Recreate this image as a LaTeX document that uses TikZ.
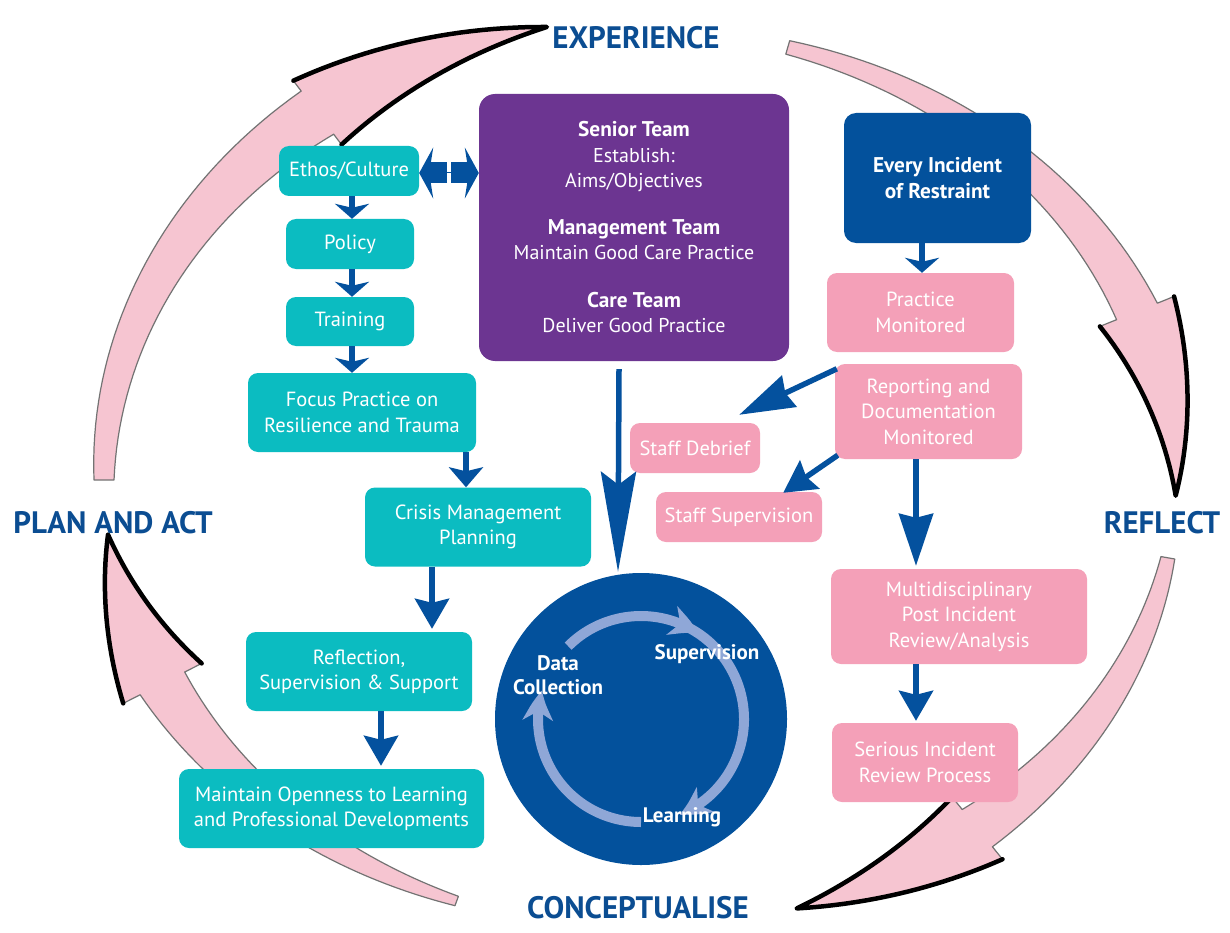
\documentclass[tikz,border=0pt]{standalone}
\usepackage{fontspec}
\setmainfont{PT Sans}
\usetikzlibrary{arrows.meta,bending}
\definecolor{cteal}{HTML}{0BBCC1}
\definecolor{cpurple}{HTML}{6C3591}
\definecolor{cdblue}{HTML}{03519C}
\definecolor{cpink}{HTML}{F4A0B8}
\definecolor{clabel}{HTML}{0B4D92}
\definecolor{carrow}{HTML}{04519E}
\definecolor{cpinkarrow}{HTML}{F6C5D1}
\definecolor{cring}{HTML}{8FA7D7}
\newcommand\boxfont{\fontsize{20.5}{25.5}\selectfont}
\newcommand\purfont{\fontsize{20}{25.5}\selectfont}
\newcommand\bfbig{\fontsize{21.3}{25.5}\selectfont\bfseries}
\newcommand\labfont{\fontsize{31}{32}\selectfont\bfseries}
\newcommand\circfont{\fontsize{21}{24.5}\selectfont\bfseries}
% #1=b, #2=t0, #3=t1, #4=t2, #5=w0, #6=w1, #7=wb
\newcommand\pinkarrow[7]{%
 \filldraw[fill=cpinkarrow,draw=black!55,line width=1.2pt,line join=round]
  plot[domain=#2:#3,samples=40,variable=\t] ({640+(536+(#5)+((#6)-(#5))*(\t-(#2))/((#3)-(#2)))*cos(\t)},{480-((#1)+(#5)+((#6)-(#5))*(\t-(#2))/((#3)-(#2)))*sin(\t)})
  -- plot[domain=#3:#4,samples=25,variable=\t] ({640+(536+(#7)*(\t-(#4))/((#3)-(#4)))*cos(\t)},{480-((#1)+(#7)*(\t-(#4))/((#3)-(#4)))*sin(\t)})
  -- plot[domain=#4:#3,samples=25,variable=\t] ({640+(536-(#7)*(\t-(#4))/((#3)-(#4)))*cos(\t)},{480-((#1)-(#7)*(\t-(#4))/((#3)-(#4)))*sin(\t)})
  -- plot[domain=#3:#2,samples=40,variable=\t] ({640+(536-(#5)-((#6)-(#5))*(\t-(#2))/((#3)-(#2)))*cos(\t)},{480-((#1)-(#5)-((#6)-(#5))*(\t-(#2))/((#3)-(#2)))*sin(\t)})
  -- cycle;
 \draw[black,line width=4.5pt,line cap=round,line join=round]
  plot[domain=#3:#4,samples=25,variable=\t] ({640+(536+(#7)*(\t-(#4))/((#3)-(#4)))*cos(\t)},{480-((#1)+(#7)*(\t-(#4))/((#3)-(#4)))*sin(\t)})
  -- plot[domain=#4:#3,samples=25,variable=\t] ({640+(536-(#7)*(\t-(#4))/((#3)-(#4)))*cos(\t)},{480-((#1)-(#7)*(\t-(#4))/((#3)-(#4)))*sin(\t)});
}
\begin{document}
\begin{tikzpicture}[x=1pt,y=-1pt,
  bx/.style={rounded corners=10pt,inner sep=0pt,text=white,align=center,font=\boxfont},
  tealbox/.style={bx,fill=cteal},
  pinkbox/.style={bx,fill=cpink},
  lab/.style={text=clabel,font=\labfont,inner sep=0pt},
  conn/.style={draw=carrow,line width=5.5pt,-{Stealth[length=#1,width=34pt,inset=4pt]}},
  ring/.style={draw=cring,line width=10pt,-{Stealth[length=30pt,width=30pt,inset=9pt,bend]}},
  dbl/.style={draw=carrow,line width=21pt,-{Stealth[length=14pt,width=51pt,inset=4pt]}}]
\useasboundingbox (0,0) rectangle (1230,933);
\fill[white] (0,0) rectangle (1230,933);

% big pink cycle arrows
\pinkarrow{460}{180}{127}{100}{10}{27}{40}
\pinkarrow{450}{74}{22}{-2}{7}{22}{40}
\pinkarrow{448}{-10}{-51}{-73}{7}{24}{40}
\pinkarrow{448}{250}{207}{187}{5}{25}{44}

% labels
\node[lab] (exp) at (636,38) {EXPERIENCE};
\node[lab] (plan) at (113,523) {PLAN AND ACT};
\node[lab] (refl) at (1162,523) {REFLECT};
\node[lab] (conc) at (638,908) {CONCEPTUALISE};

% left column
\node[tealbox,minimum width=140pt,minimum height=50pt] (ethos) at (349,171) {Ethos/Culture};
\node[tealbox,minimum width=128pt,minimum height=50pt] (policy) at (350,244) {Policy};
\node[tealbox,minimum width=128pt,minimum height=49pt] (training) at (350,321.5) {Training};
\node[tealbox,minimum width=228pt,minimum height=79pt] (focus) at (362,412.5) {Focus Practice on\\Resilience and Trauma};
\node[tealbox,minimum width=226pt,minimum height=79pt] (crisis) at (478,527) {Crisis Management\\Planning};
\node[tealbox,minimum width=226pt,minimum height=79pt] (reflection) at (359,671.5) {Reflection,\\Supervision \& Support};
\node[tealbox,minimum width=305pt,minimum height=79pt] (maintain) at (331.5,808.5) {Maintain Openness to Learning\\and Professional Developments};

% centre
\node[bx,fill=cpurple,font=\purfont,rounded corners=16pt,minimum width=310pt,minimum height=267pt] (purple) at (634,227.5)
 {{\bfbig Senior Team}\\Establish:\\Aims/Objectives\\[21pt]{\bfbig Management Team}\\Maintain Good Care Practice\\[22pt]{\bfbig Care Team}\\Deliver Good Practice};
\node[circle,fill=cdblue,minimum size=292pt,inner sep=0pt] (circ) at (641,719) {};

% right column
\node[bx,fill=cdblue,font=\bfbig,rounded corners=12pt,minimum width=187pt,minimum height=130pt] (incident) at (937.5,178) {Every Incident\\of Restraint};
\node[pinkbox,minimum width=187pt,minimum height=79pt] (practice) at (920.5,312.5) {Practice\\Monitored};
\node[pinkbox,minimum width=187pt,minimum height=95pt] (report) at (928.5,411.5) {Reporting and\\Documentation\\Monitored};
\node[pinkbox,minimum width=130pt,minimum height=50pt] (debrief) at (695,448) {Staff Debrief};
\node[pinkbox,minimum width=166pt,minimum height=50pt] (staffsup) at (739,517) {Staff Supervision};
\node[pinkbox,minimum width=256pt,minimum height=95pt] (multi) at (959,616.5) {Multidisciplinary\\Post Incident\\Review/Analysis};
\node[pinkbox,minimum width=186pt,minimum height=79pt] (serious) at (925,762.5) {Serious Incident\\Review Process};

% circle contents
\draw[ring] ([shift={(-135:103)}]circ.center) arc[start angle=-135,end angle=-56,radius=103];
\draw[ring] ([shift={(-64:103)}]circ.center) arc[start angle=-64,end angle=68,radius=103];
\draw[ring] ([shift={(90:103)}]circ.center) arc[start angle=90,end angle=196,radius=103];
\node[text=white,font=\circfont,align=center,inner sep=0pt] (data) at (558,675) {Data\\Collection};
\node[text=white,font=\circfont,inner sep=0pt] (supv) at (707,654) {Supervision};
\node[text=white,font=\circfont,inner sep=0pt] (learn) at (682,817) {Learning};

% connectors
\draw[conn=15pt] (ethos.south -| 352,0) -- (policy.north -| 352,0);
\draw[conn=15pt] (policy.south -| 352,0) -- (training.north -| 352,0);
\draw[conn=15pt] (training.south -| 352,0) -- (focus.north -| 352,0);
\draw[conn=20pt] (focus.south -| 466,0) -- (crisis.north -| 466,0);
\draw[conn=30pt] (crisis.south -| 432,0) -- ([yshift=3pt]reflection.north -| 432,0);
\draw[conn=30pt] (reflection.south -| 381,0) -- ([yshift=3pt]maintain.north -| 381,0);
\draw[conn=15pt] (incident.south -| 922,0) -- (practice.north -| 922,0);
\draw[conn=52pt] (report.south -| 916,0) -- ([yshift=3pt]multi.north -| 916,0);
\draw[conn=30pt] (multi.south -| 916,0) -- ([yshift=2pt]serious.north -| 916,0);
\draw[conn=55pt] ([xshift=2pt,yshift=-5pt]report.north west) -- ([xshift=-21pt,yshift=8pt]debrief.north east);
\draw[conn=32pt] ([xshift=3pt,yshift=4pt]report.south west) -- ([xshift=-39pt,yshift=-1pt]staffsup.north east);
\draw[draw=carrow,line width=5.5pt,-{Stealth[length=100pt,width=35pt,inset=13pt]}] ([xshift=-15pt,yshift=-8pt]purple.south) -- ([xshift=-23pt,yshift=1pt]circ.north);

% double arrow Ethos <-> Senior team
\coordinate (dmid) at (449,173);
\draw[carrow,line width=1pt] ([xshift=-3pt]dmid) -- ([xshift=3pt]dmid);
\draw[dbl] ([xshift=-2pt]dmid) -- (dmid -| ethos.east);
\draw[dbl] ([xshift=2pt]dmid) -- (dmid -| purple.west);
\end{tikzpicture}
\end{document}
